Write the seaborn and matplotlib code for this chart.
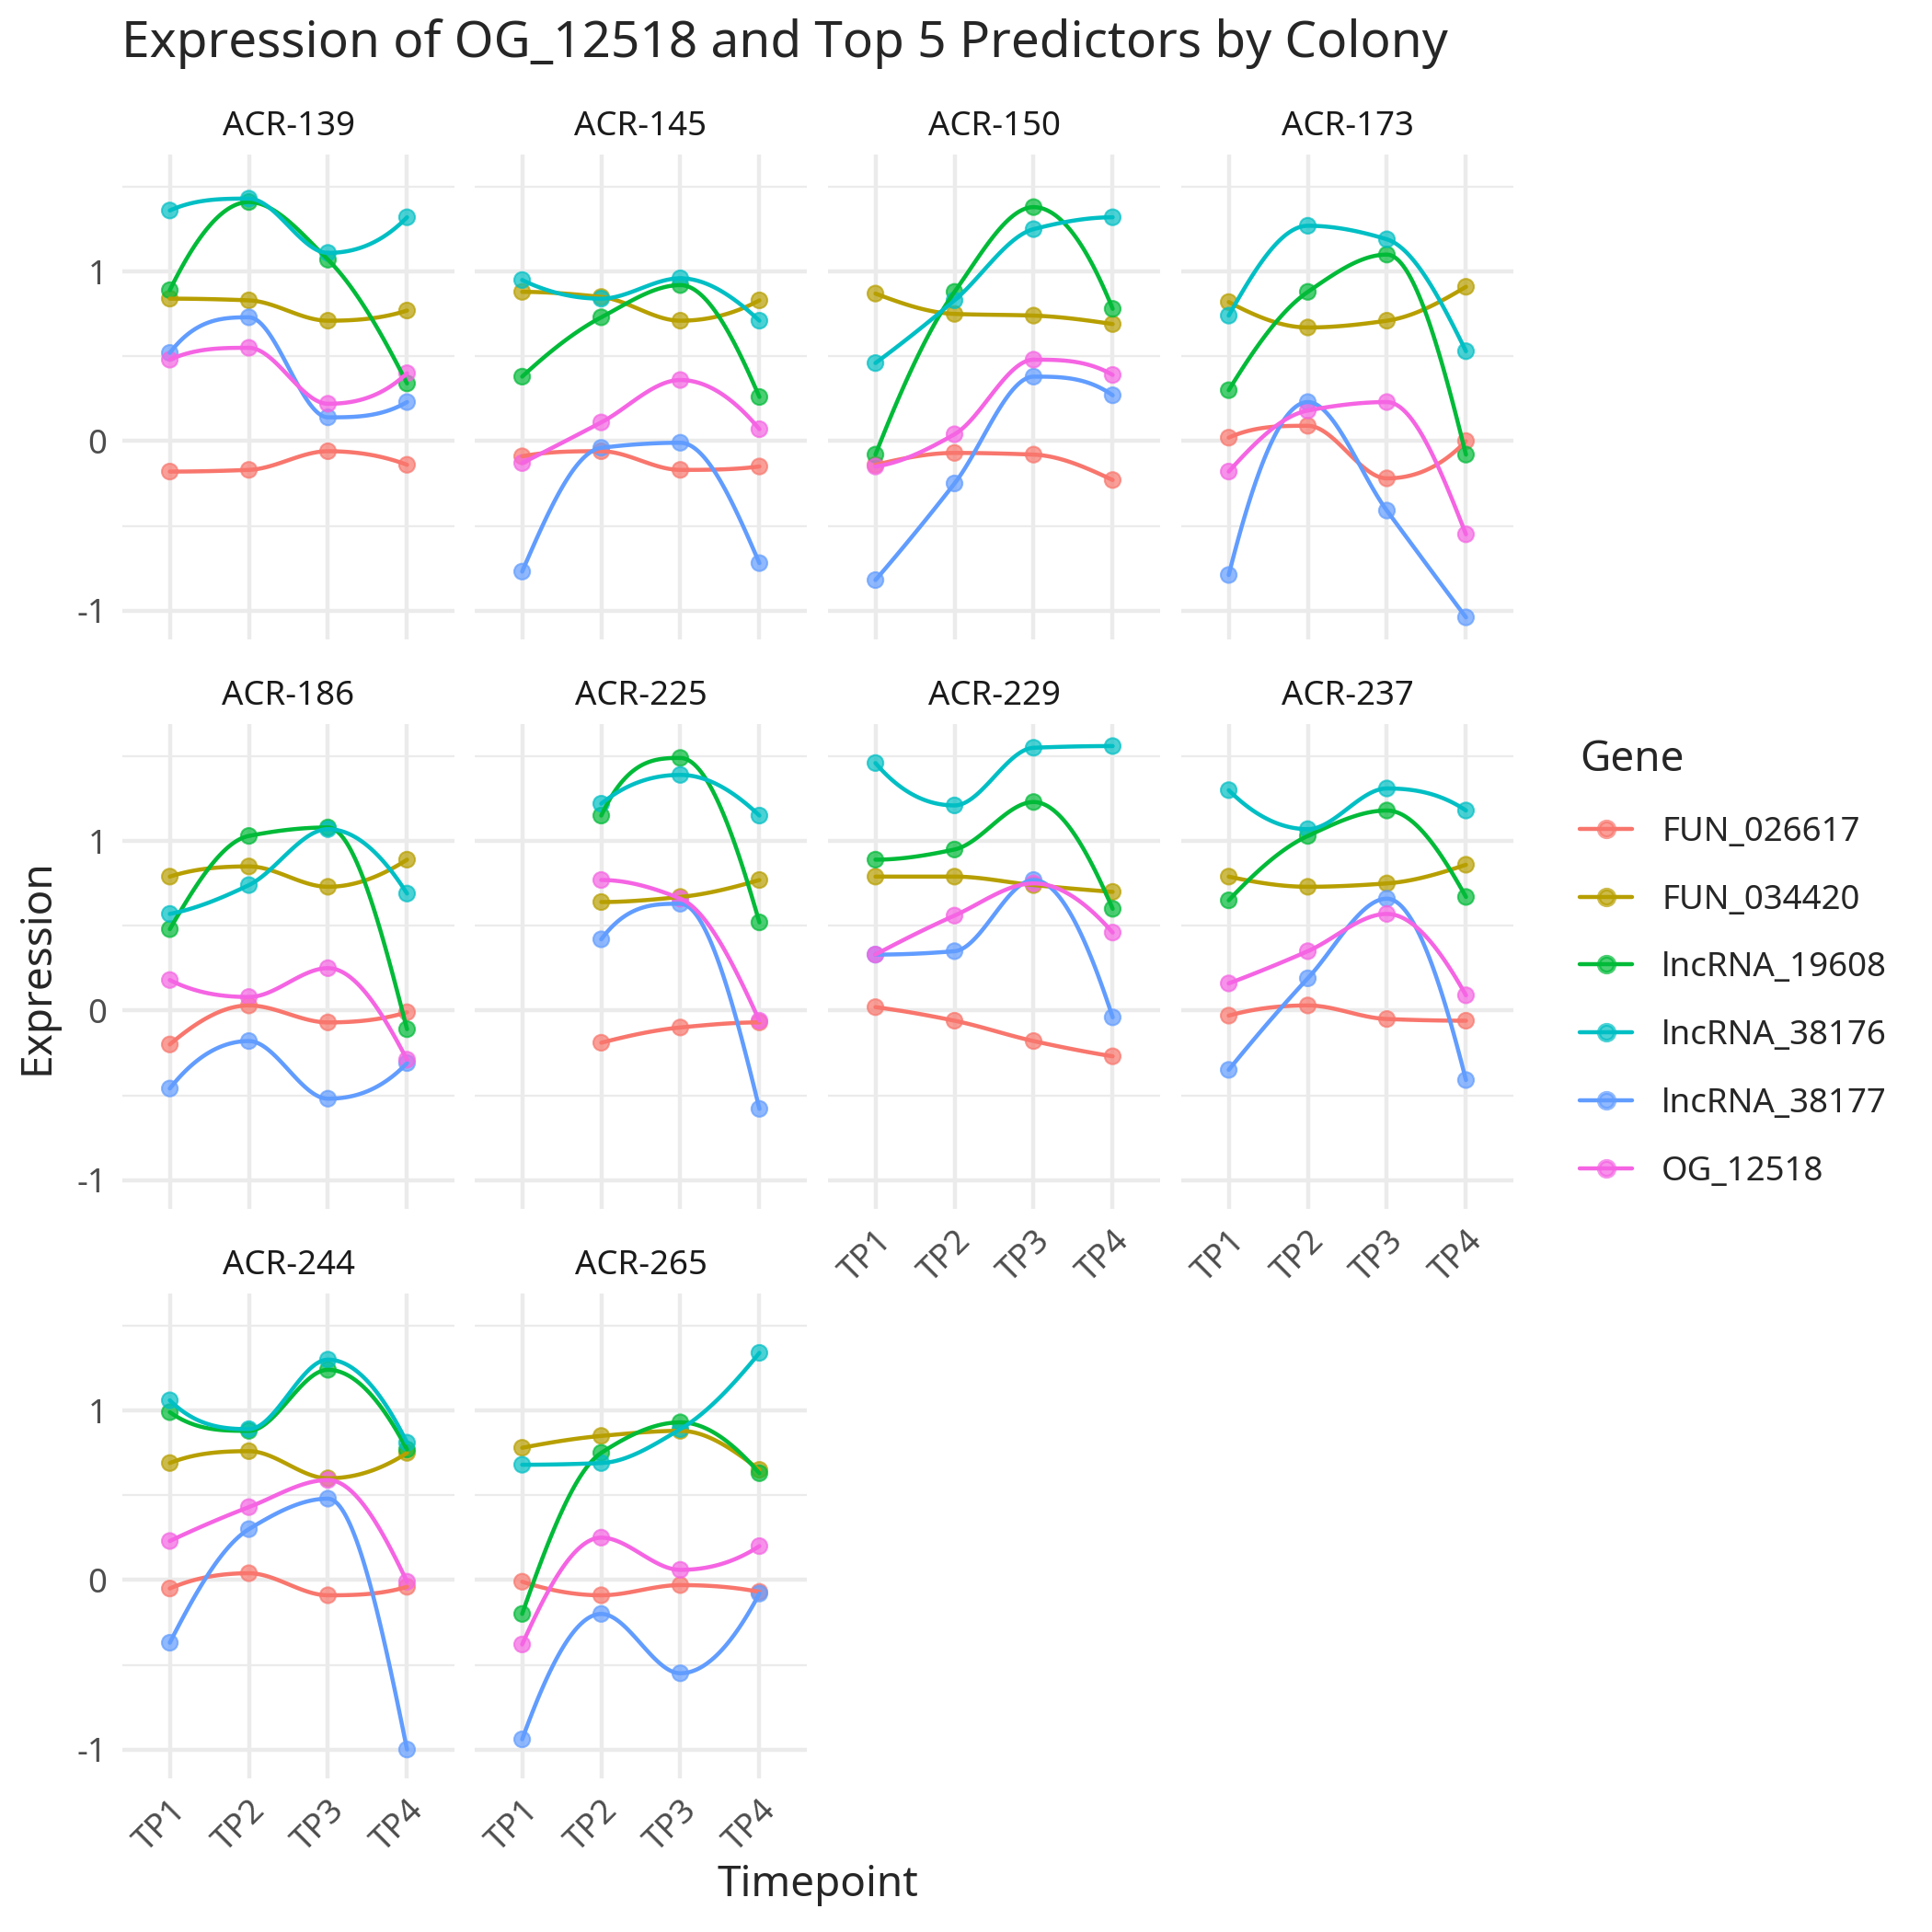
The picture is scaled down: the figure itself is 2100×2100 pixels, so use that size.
import numpy as np
import pandas as pd
import matplotlib
matplotlib.use('Agg')
import matplotlib.pyplot as plt
import seaborn as sns
from matplotlib.lines import Line2D
from matplotlib.colors import to_rgba

# Data (rows = colonies, columns = TP1..TP4).
colonies = ['ACR-139', 'ACR-145', 'ACR-150', 'ACR-173', 'ACR-186',
            'ACR-225', 'ACR-229', 'ACR-237', 'ACR-244', 'ACR-265']
timepoints = ['TP1', 'TP2', 'TP3', 'TP4']
genes = ['FUN_026617', 'FUN_034420', 'lncRNA_19608',
         'lncRNA_38176', 'lncRNA_38177', 'OG_12518']
gene_colors = ['#F8766D', '#B79F00', '#00BA38', '#00BFC4', '#619CFF', '#F564E3']

FUN_026617 = [[-0.18, -0.17, -0.06, -0.14],
              [-0.09, -0.06, -0.17, -0.15],
              [-0.14, -0.07, -0.08, -0.23],
              [0.02, 0.09, -0.22, 0.00],
              [-0.20, 0.03, -0.07, -0.01],
              [np.nan, -0.19, -0.10, -0.07],
              [0.02, -0.06, -0.18, -0.27],
              [-0.03, 0.03, -0.05, -0.06],
              [-0.05, 0.04, -0.09, -0.04],
              [-0.01, -0.09, -0.03, -0.07]]
FUN_034420 = [[0.84, 0.83, 0.71, 0.77],
              [0.88, 0.85, 0.71, 0.83],
              [0.87, 0.75, 0.74, 0.69],
              [0.82, 0.67, 0.71, 0.91],
              [0.79, 0.85, 0.73, 0.89],
              [np.nan, 0.64, 0.67, 0.77],
              [0.79, 0.79, 0.74, 0.70],
              [0.79, 0.73, 0.75, 0.86],
              [0.69, 0.76, 0.60, 0.75],
              [0.78, 0.85, 0.88, 0.65]]
lncRNA_19608 = [[0.89, 1.41, 1.07, 0.34],
                [0.38, 0.73, 0.92, 0.26],
                [-0.08, 0.88, 1.38, 0.78],
                [0.30, 0.88, 1.10, -0.08],
                [0.48, 1.03, 1.08, -0.11],
                [np.nan, 1.15, 1.49, 0.52],
                [0.89, 0.95, 1.23, 0.60],
                [0.65, 1.03, 1.18, 0.67],
                [0.99, 0.88, 1.24, 0.77],
                [-0.20, 0.75, 0.93, 0.63]]
lncRNA_38176 = [[1.36, 1.43, 1.11, 1.32],
                [0.95, 0.84, 0.96, 0.71],
                [0.46, 0.83, 1.25, 1.32],
                [0.74, 1.27, 1.19, 0.53],
                [0.57, 0.74, 1.07, 0.69],
                [np.nan, 1.22, 1.39, 1.15],
                [1.46, 1.21, 1.55, 1.56],
                [1.30, 1.07, 1.31, 1.18],
                [1.06, 0.89, 1.30, 0.81],
                [0.68, 0.69, 0.89, 1.34]]
lncRNA_38177 = [[0.52, 0.73, 0.14, 0.23],
                [-0.77, -0.04, -0.01, -0.72],
                [-0.82, -0.25, 0.38, 0.27],
                [-0.79, 0.23, -0.41, -1.04],
                [-0.46, -0.18, -0.52, -0.31],
                [np.nan, 0.42, 0.63, -0.58],
                [0.33, 0.35, 0.77, -0.04],
                [-0.35, 0.19, 0.66, -0.41],
                [-0.37, 0.30, 0.48, -1.00],
                [-0.94, -0.20, -0.55, -0.08]]
OG_12518 = [[0.48, 0.55, 0.22, 0.40],
            [-0.13, 0.11, 0.36, 0.07],
            [-0.15, 0.04, 0.48, 0.39],
            [-0.18, 0.18, 0.23, -0.55],
            [0.18, 0.08, 0.25, -0.29],
            [np.nan, 0.77, 0.66, -0.06],
            [0.33, 0.56, 0.75, 0.46],
            [0.16, 0.35, 0.57, 0.09],
            [0.23, 0.43, 0.59, -0.01],
            [-0.38, 0.25, 0.06, 0.20]]

gene_values = [FUN_026617, FUN_034420, lncRNA_19608,
               lncRNA_38176, lncRNA_38177, OG_12518]

rows = []
for gene, vals in zip(genes, gene_values):
    for colony, series in zip(colonies, vals):
        for k, tp in enumerate(timepoints):
            rows.append((colony, gene, tp, k, series[k]))
df = pd.DataFrame(rows, columns=['colony', 'gene', 'timepoint', 'x', 'value'])
df = df.dropna()


# Smooth monotone (PCHIP-style) curve through the observed points, for drawing.
def pchip_curve(x, y, n=40):
    x = np.asarray(x, float)
    y = np.asarray(y, float)
    if len(x) < 3:
        return x, y
    h = np.diff(x)
    d = np.diff(y) / h
    m = np.zeros(len(x))
    for k in range(1, len(x) - 1):
        if d[k - 1] * d[k] <= 0:
            m[k] = 0
        else:
            w1 = 2 * h[k] + h[k - 1]
            w2 = h[k] + 2 * h[k - 1]
            m[k] = (w1 + w2) / (w1 / d[k - 1] + w2 / d[k])

    def end_slope(h0, h1, d0, d1):
        s = ((2 * h0 + h1) * d0 - h0 * d1) / (h0 + h1)
        if np.sign(s) != np.sign(d0):
            s = 0
        elif np.sign(d0) != np.sign(d1) and abs(s) > abs(3 * d0):
            s = 3 * d0
        return s

    m[0] = end_slope(h[0], h[1], d[0], d[1])
    m[-1] = end_slope(h[-1], h[-2], d[-1], d[-2])
    xs, ys = [], []
    for k in range(len(x) - 1):
        t = np.linspace(0, 1, n, endpoint=(k == len(x) - 2))
        h00 = 2 * t**3 - 3 * t**2 + 1
        h10 = t**3 - 2 * t**2 + t
        h01 = -2 * t**3 + 3 * t**2
        h11 = t**3 - t**2
        xs.append(x[k] + t * h[k])
        ys.append(h00 * y[k] + h10 * h[k] * m[k] + h01 * y[k + 1] + h11 * h[k] * m[k + 1])
    return np.concatenate(xs), np.concatenate(ys)


sns.set_theme(style='white')
plt.rcParams['font.family'] = ['Noto Sans', 'DejaVu Sans']
plt.rcParams['axes.unicode_minus'] = False

palette = dict(zip(genes, gene_colors))
fig = plt.figure(figsize=(7, 7), dpi=300)

W = 2100.0
lefts = [133, 516, 900, 1284]
tops = [168, 787, 1406]
pw, ph = 361, 527

vmin, vmax = df['value'].min(), df['value'].max()
pad = 0.05 * (vmax - vmin)

for i, colony in enumerate(colonies):
    r, c = divmod(i, 4)
    ax = fig.add_axes([lefts[c] / W, 1 - (tops[r] + ph) / W, pw / W, ph / W])
    sub = df[df['colony'] == colony]

    sns.scatterplot(data=sub, x='x', y='value', hue='gene', hue_order=genes,
                    palette=palette, s=17, alpha=0.7, edgecolor='face',
                    linewidth=0.5, legend=False, ax=ax, zorder=2)

    curves = []
    for gene in genes:
        g = sub[sub['gene'] == gene].sort_values('x')
        xs, ys = pchip_curve(g['x'].values, g['value'].values)
        curves.append(pd.DataFrame({'gene': gene, 'x': xs, 'value': ys}))
    curves = pd.concat(curves, ignore_index=True)
    sns.lineplot(data=curves, x='x', y='value', hue='gene', hue_order=genes,
                 palette=palette, estimator=None, sort=False, lw=1.07,
                 legend=False, ax=ax, zorder=3)

    ax.set_xlim(-0.6, 3.6)
    ax.set_ylim(vmin - pad, vmax + pad)
    ax.set_xticks(range(len(timepoints)))
    ax.set_xticklabels(timepoints, rotation=45, ha='right', rotation_mode='anchor')
    ax.set_yticks([-1, 0, 1])
    ax.set_yticklabels(['-1', '0', '1'])
    ax.set_yticks([-0.5, 0.5, 1.5], minor=True)
    ax.grid(which='major', color='#EBEBEB', lw=1.07)
    ax.grid(which='minor', axis='y', color='#EBEBEB', lw=0.53)
    ax.set_axisbelow(True)
    for s in ax.spines.values():
        s.set_visible(False)
    ax.tick_params(which='both', length=0, labelsize=8.8, labelcolor='#4D4D4D', pad=4)
    ax.tick_params(axis='y', labelleft=(c == 0))
    ax.tick_params(axis='x', labelbottom=(i >= 6))
    ax.set_xlabel('')
    ax.set_ylabel('')
    ax.set_title(colony, fontsize=8.8, color='#1A1A1A', pad=5)

fig.text(132 / W, 1 - 47 / W, 'Expression of OG_12518 and Top 5 Predictors by Colony',
         fontsize=13.2, ha='left', va='center')
fig.text(40 / W, 1 - 1051 / W, 'Expression', rotation=90, fontsize=11,
         ha='center', va='center')
fig.text(889 / W, 1 - 2049 / W, 'Timepoint', fontsize=11, ha='center', va='center')

handles = [Line2D([], [], color=col, lw=1.07, marker='o', markersize=4.1,
                  markerfacecolor=to_rgba(col, 0.7), markeredgecolor=to_rgba(col, 0.7))
           for col in gene_colors]
fig.legend(handles, genes, title='Gene', loc='upper left',
           bbox_to_anchor=(1717 / W, 1 - 803 / W), frameon=False,
           fontsize=8.8, title_fontsize=11, handlelength=1.56, handletextpad=0.87,
           labelspacing=1.03, alignment='left', borderpad=0, borderaxespad=0)

fig.savefig('out.png', dpi=300)
